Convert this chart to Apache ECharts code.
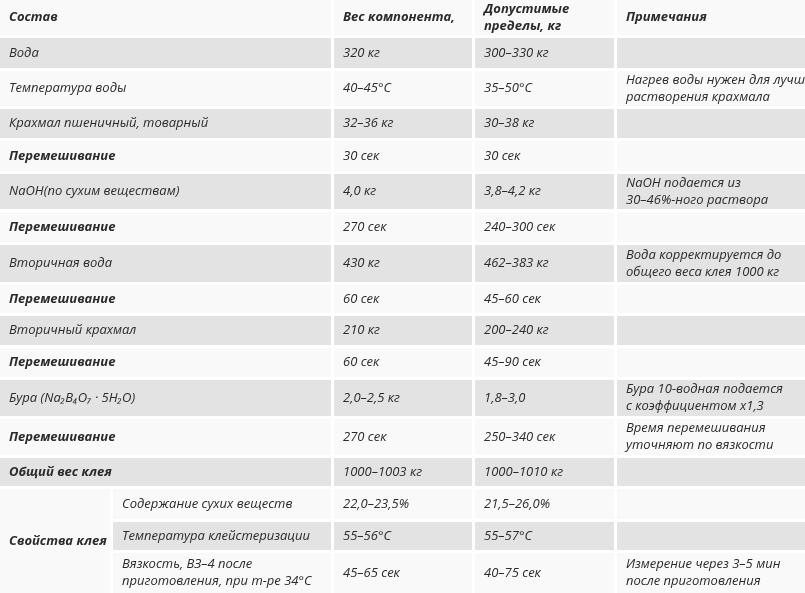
<!DOCTYPE html>
<html><head><meta charset="utf-8">
<script src="https://cdn.jsdelivr.net/npm/echarts@6/dist/echarts.min.js"></script>
<style>html,body{margin:0;padding:0;background:#fff}#c{width:805px;height:593px}</style>
</head><body><div id="c"></div>
<script>
const headers = ['Состав', 'Вес компонента,', 'Допустимые\nпределы, кг', 'Примечания'];
const names = ['Вода','Температура воды','Крахмал пшеничный, товарный','Перемешивание','NaOH(по сухим веществам)','Перемешивание','Вторичная вода','Перемешивание','Вторичный крахмал','Перемешивание','Бура (Na₂B₄O₇ · 5H₂O)','Перемешивание','Общий вес клея'];
const weights = ['320 кг','40–45°C','32–36 кг','30 сек','4,0 кг','270 сек','430 кг','60 сек','210 кг','60 сек','2,0–2,5 кг','270 сек','1000–1003 кг'];
const limits = ['300–330 кг','35–50°C','30–38 кг','30 сек','3,8–4,2 кг','240–300 сек','462–383 кг','45–60 сек','200–240 кг','45–90 сек','1,8–3,0','250–340 сек','1000–1010 кг'];
const notes = ['','Нагрев воды нужен для лучшего\nрастворения крахмала','','','NaOH подается из\n30–46%-ного раствора','','Вода корректируется до\nобщего веса клея 1000 кг','','','','Бура 10-водная подается\nс коэффициентом х1,3','Время перемешивания\nуточняют по вязкости',''];
const boldRows = [3,5,7,9,11,12];
const groupLabel = 'Свойства клея';
const propNames = ['Содержание сухих веществ','Температура клейстеризации','Вязкость, ВЗ–4 после\nприготовления, при т-ре 34°C'];
const propWeights = ['22,0–23,5%','55–56°C','45–65 сек'];
const propLimits = ['21,5–26,0%','55–57°C','40–75 сек'];
const propNotes = ['','','Измерение через 3–5 мин\nпосле приготовления'];

// layout
const colX = [0,334,475,617,805];
const rowTops = [0,38,71,109,141,174,212,245,285,316,348,380,419,458,489];
const propTops = [489,522,553,593];
const subX = 113;
const GRAY='#e3e3e3', LIGHT='#f9f9f9', GAP=3;
const font = '"Open Sans", "DejaVu Sans", sans-serif';
const g = [];
function rect(x1,y1,x2,y2,fill){g.push({type:'rect',shape:{x:x1,y:y1,width:x2-x1-GAP,height:y2-y1-GAP},style:{fill}});}
function txt(x,y1,y2,s,bold){g.push({type:'text',x:x+9,y:(y1+y2-GAP)/2,style:{text:s,font:`italic ${bold?'bold ':''}13px ${font}`,fill:'#2b2b2b',verticalAlign:'middle',lineHeight:17}});}
const table=[headers].concat(names.map((n,i)=>[n,weights[i],limits[i],notes[i]]));
table.forEach((row,r)=>{
  const y1=rowTops[r], y2=rowTops[r+1];
  const fill = r===0?LIGHT:(r%2===1?GRAY:LIGHT);
  for(let c=0;c<4;c++){rect(colX[c],y1,colX[c+1]+(c===3?GAP:0),y2,fill);}
  const bold = r===0 || boldRows.includes(r-1);
  txt(colX[0],y1,y2,row[0],bold);
  for(let c=1;c<4;c++) txt(colX[c],y1,y2,row[c],r===0);
});
rect(0,propTops[0],subX,593+GAP,LIGHT);
txt(0,propTops[0],593+GAP,groupLabel,true);
propNames.forEach((p,i)=>{
  const y1=propTops[i], y2=propTops[i+1]+(i===2?GAP:0);
  const fill=i===1?GRAY:LIGHT;
  rect(subX,y1,colX[1],y2,fill);
  for(let c=1;c<4;c++) rect(colX[c],y1,colX[c+1]+(c===3?GAP:0),y2,fill);
  txt(subX,y1,y2,p,false);
  txt(colX[1],y1,y2,propWeights[i]);
  txt(colX[2],y1,y2,propLimits[i]);
  txt(colX[3],y1,y2,propNotes[i]);
});
const chart=echarts.init(document.getElementById('c'));
chart.setOption({animation:false,graphic:{elements:g}});
</script></body></html>
